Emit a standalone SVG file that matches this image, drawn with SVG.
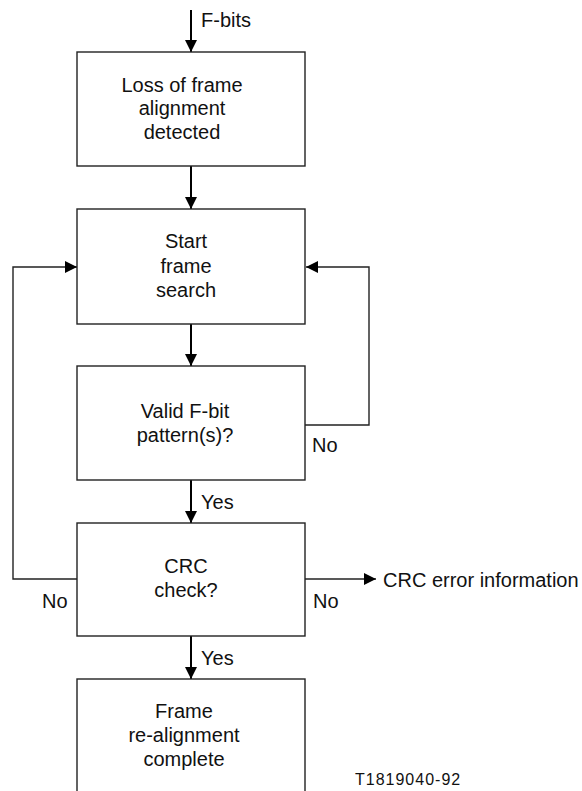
<svg xmlns="http://www.w3.org/2000/svg" width="582" height="791" viewBox="0 0 582 791">
<defs>
<marker id="ah" viewBox="0 0 12 12" refX="12" refY="6" markerWidth="12" markerHeight="12" markerUnits="userSpaceOnUse" orient="auto">
<path d="M0,0 L12,6 L0,12 Z" fill="#000"/>
</marker>
<style>
.box{fill:#fff;stroke:#222;stroke-width:1.4}
.t{font-family:"Liberation Sans",Arial,sans-serif;font-size:20px;fill:#111}
.c{text-anchor:middle}
.main{stroke:#000;stroke-width:2;fill:none}
.loop{stroke:#222;stroke-width:1.4;fill:none}
</style>
</defs>
<rect width="582" height="791" fill="#fff"/>
<g id="connectors">
<line class="main" x1="191" y1="10" x2="191" y2="52" marker-end="url(#ah)"/>
<line class="main" x1="191" y1="166" x2="191" y2="209" marker-end="url(#ah)"/>
<line class="main" x1="191" y1="324" x2="191" y2="366" marker-end="url(#ah)"/>
<line class="main" x1="191" y1="480" x2="191" y2="523" marker-end="url(#ah)"/>
<line class="main" x1="191" y1="636" x2="191" y2="679" marker-end="url(#ah)"/>
<polyline class="loop" points="305,425 369,425 369,267 306,267" marker-end="url(#ah)"/>
<polyline class="loop" points="77,579 13,579 13,267 77,267" marker-end="url(#ah)"/>
<line class="loop" x1="305" y1="579" x2="376" y2="579" marker-end="url(#ah)"/>
<text class="t" x="201" y="27">F-bits</text>
<text class="t" x="312" y="452">No</text>
<text class="t" x="201" y="509">Yes</text>
<text class="t" x="42" y="608">No</text>
<text class="t" x="313" y="608">No</text>
<text class="t" x="201" y="665">Yes</text>
<text class="t" x="383" y="587">CRC error information</text>
</g>
<g id="n1">
<rect class="box" x="77" y="52" width="228" height="114"/>
<text class="t c" x="182" y="92">Loss of frame</text>
<text class="t c" x="182" y="115">alignment</text>
<text class="t c" x="182" y="139">detected</text>
</g>
<g id="n2">
<rect class="box" x="77" y="209" width="228" height="115"/>
<text class="t c" x="186" y="248">Start</text>
<text class="t c" x="186" y="273">frame</text>
<text class="t c" x="186" y="297">search</text>
</g>
<g id="n3">
<rect class="box" x="77" y="366" width="228" height="114"/>
<text class="t c" x="185" y="418">Valid F-bit</text>
<text class="t c" x="185" y="442">pattern(s)?</text>
</g>
<g id="n4">
<rect class="box" x="77" y="523" width="228" height="113"/>
<text class="t c" x="186" y="573">CRC</text>
<text class="t c" x="186" y="597">check?</text>
</g>
<g id="n5">
<rect class="box" x="77" y="679" width="228" height="130"/>
<text class="t c" x="184" y="718">Frame</text>
<text class="t c" x="184" y="742">re-alignment</text>
<text class="t c" x="184" y="766">complete</text>
</g>
<text x="355" y="785" font-family="Liberation Sans,Arial,sans-serif" font-size="16" letter-spacing="1" fill="#111">T1819040-92</text>
</svg>
